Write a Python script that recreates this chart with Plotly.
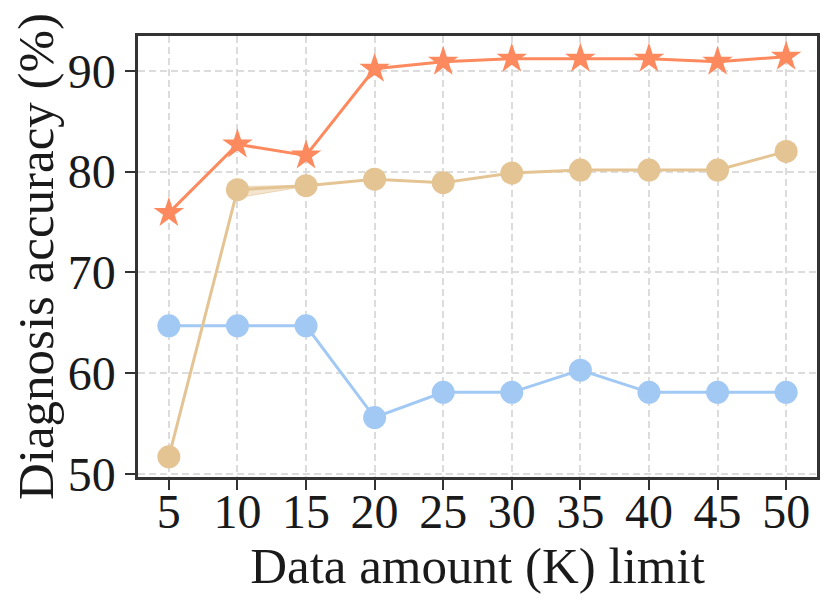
import plotly.graph_objects as go

x_vals = [5, 10, 15, 20, 25, 30, 35, 40, 45, 50]
star_series = [75.9, 82.7, 81.6, 90.2, 90.9, 91.2, 91.2, 91.2, 90.9, 91.4]
tan_series = [51.7, 78.2, 78.6, 79.25, 78.9, 79.85, 80.15, 80.15, 80.15, 82.0]
blue_series = [64.7, 64.7, 64.7, 55.6, 58.1, 58.1, 60.3, 58.1, 58.1, 58.1]

band_x = [10, 15]
band_upper = [78.5, 78.65]
band_lower = [77.4, 78.55]

x_title = "Data amount (K) limit"
y_title = "Diagnosis accuracy (%)"

ORANGE = "#fd8a5e"
TAN = "#e5c494"
BLUE = "#a1c9f4"
FONT = "Liberation Serif"
TXT = "#1a1a1a"

fig = go.Figure()

fig.add_trace(go.Scatter(
    x=x_vals, y=blue_series, mode="lines+markers",
    line=dict(color=BLUE, width=3),
    marker=dict(symbol="circle", size=23, color=BLUE),
    showlegend=False))

fig.add_trace(go.Scatter(
    x=band_x + band_x[::-1], y=band_upper + band_lower[::-1],
    fill="toself", fillcolor="rgba(229,196,148,0.45)",
    line=dict(color="rgba(229,196,148,0.6)", width=1),
    mode="lines", showlegend=False, hoverinfo="skip"))

fig.add_trace(go.Scatter(
    x=x_vals, y=tan_series, mode="lines+markers",
    line=dict(color=TAN, width=3),
    marker=dict(symbol="circle", size=23, color=TAN),
    showlegend=False))

fig.add_trace(go.Scatter(
    x=x_vals, y=star_series, mode="lines+markers",
    line=dict(color=ORANGE, width=3),
    marker=dict(symbol="star", size=23, color=ORANGE),
    showlegend=False))

axis_common = dict(
    showline=True, linecolor="#333333", linewidth=2.5, mirror=True,
    ticks="outside", ticklen=10, tickwidth=2, tickcolor="#333333",
    showgrid=True, gridcolor="#dcdcdc", gridwidth=1.5, griddash="7px,4px",
    zeroline=False,
    tickfont=dict(family=FONT, size=48, color=TXT),
)

fig.update_xaxes(
    range=[2.75, 52.25], tickmode="array", tickvals=x_vals,
    ticktext=[str(v) for v in x_vals], ticklabelstandoff=-19,
    title=dict(text=x_title, font=dict(family=FONT, size=51, color=TXT), standoff=7),
    **axis_common)
fig.update_yaxes(
    range=[49.7, 93.45], tickmode="array", tickvals=[50, 60, 70, 80, 90],
    title=dict(text=y_title, font=dict(family=FONT, size=51, color=TXT), standoff=4),
    **axis_common)

fig.update_layout(
    width=823, height=603,
    margin=dict(l=130, r=14, t=28, b=134, autoexpand=False),
    plot_bgcolor="white", paper_bgcolor="white",
)

fig.write_html("out.html")
